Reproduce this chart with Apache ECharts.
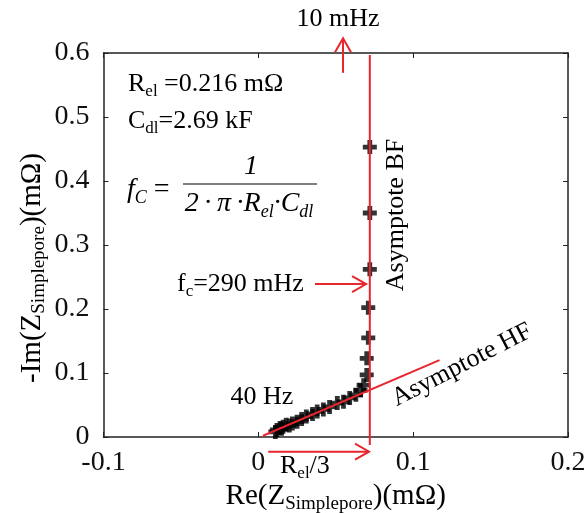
<!DOCTYPE html>
<html>
<head>
<meta charset="utf-8">
<script src="https://cdn.jsdelivr.net/npm/echarts@6/dist/echarts.min.js"></script>
<style>html,body{margin:0;padding:0;background:#fff}#c{width:585px;height:513px}</style>
</head>
<body>
<div id="c"></div>
<script>
// Measured points: Re(Z) and -Im(Z) in mΩ
const reData = [0.011,0.012,0.014,0.015,0.016,0.018,0.020,0.022,0.025,0.028,0.031,0.035,0.038,0.042,0.046,0.051,0.055,0.059,0.063,0.066,0.068,0.070,0.070,0.071,0.071,0.072,0.072,0.072];
const imData = [0.008,0.011,0.014,0.013,0.016,0.019,0.018,0.021,0.024,0.028,0.032,0.036,0.040,0.043,0.047,0.053,0.055,0.061,0.066,0.073,0.081,0.097,0.123,0.155,0.202,0.262,0.350,0.453];
// Annotation lines/arrows in data units: [x1, y1, x2, y2, arrowHead]
const bfLine   = [0.072, 0.597, 0.072, -0.0125, 0];
const hfLine   = [0.003, 0.002, 0.117, 0.120, 0];
const arrow10m = [0.0547, 0.569, 0.0547, 0.623, 1];
const arrowFc  = [0.0366, 0.239, 0.0696, 0.239, 1];
const arrowRel = [0.0064, -0.023, 0.0715, -0.023, 1];
const xRange = [-0.1, 0.2], yRange = [0, 0.6], xStep = 0.1, yStep = 0.1;

const FONT = "'Liberation Serif', 'Times New Roman', serif";
const INK = '#000';
const RED = '#e8262d';
const aMain = {fontFamily: FONT, fontSize: 29, color: INK, lineHeight: 34, verticalAlign: 'middle'};
const aSub = {fontFamily: FONT, fontSize: 19, color: INK, lineHeight: 19, verticalAlign: 'bottom'};
const yMain = {fontFamily: FONT, fontSize: 29, fill: INK, lineHeight: 34, verticalAlign: 'middle'};
const ySub = {fontFamily: FONT, fontSize: 19, fill: INK, lineHeight: 19, verticalAlign: 'bottom'};
const gMain = {fontFamily: FONT, fontSize: 26, fill: INK, lineHeight: 32, verticalAlign: 'middle'};
const gSub = {fontFamily: FONT, fontSize: 17, fill: INK, lineHeight: 17, verticalAlign: 'bottom'};
const fMainI = {fontFamily: FONT, fontSize: 28, fill: INK, lineHeight: 34, verticalAlign: 'middle', fontStyle: 'italic'};
const fSubI = {fontFamily: FONT, fontSize: 18, fill: INK, lineHeight: 18, verticalAlign: 'bottom', fontStyle: 'italic'};
const fEq = {fontFamily: FONT, fontSize: 28, fill: INK, lineHeight: 34, verticalAlign: 'middle'};

const chart = echarts.init(document.getElementById('c'), null, {renderer: 'canvas'});

function axisCommon(showLabel, margin) {
  return {
    axisLine: {show: true, onZero: false, lineStyle: {color: '#222', width: 1.5}},
    axisTick: {show: true, inside: true, length: 5, lineStyle: {color: '#222', width: 1}},
    splitLine: {show: false},
    axisLabel: {show: showLabel, fontFamily: FONT, fontSize: 28, color: '#111', margin: margin}
  };
}

const plus = 'path://M0.33,0H0.67V0.33H1V0.67H0.67V1H0.33V0.67H0V0.33H0.33Z';

function renderArrow(params, api) {
  const p1 = api.coord([api.value(0), api.value(1)]);
  const p2 = api.coord([api.value(2), api.value(3)]);
  const head = api.value(4);
  const children = [{type: 'line', shape: {x1: p1[0], y1: p1[1], x2: p2[0], y2: p2[1]},
    style: {stroke: RED, lineWidth: 2}}];
  if (head) {
    const dx = p2[0] - p1[0], dy = p2[1] - p1[1];
    const len = Math.hypot(dx, dy);
    const ux = dx / len, uy = dy / len, nx = -uy, ny = ux;
    const L = 14, W = 8;
    children.push({type: 'polyline', shape: {points: [
      [p2[0] - L * ux + W * nx, p2[1] - L * uy + W * ny],
      [p2[0], p2[1]],
      [p2[0] - L * ux - W * nx, p2[1] - L * uy - W * ny]]},
      style: {stroke: RED, lineWidth: 2, fill: null}});
  }
  return {type: 'group', children};
}

const TS = '\u2009';
chart.setOption({
  animation: false,
  backgroundColor: '#fff',
  grid: {left: 103.5, right: 17, top: 53, bottom: 76, containLabel: false, outerBoundsMode: 'none'},
  xAxis: [
    Object.assign({type: 'value', min: xRange[0], max: xRange[1], interval: xStep, position: 'bottom',
      name: '{m|Re(Z}{s|Simplepore}{m|)(mΩ)}', nameLocation: 'middle', nameGap: 38,
      nameTextStyle: {rich: {m: aMain, s: aSub}}}, axisCommon(true, 12)),
    Object.assign({type: 'value', min: xRange[0], max: xRange[1], interval: xStep, position: 'top'}, axisCommon(false, 8))
  ],
  yAxis: [
    Object.assign({type: 'value', min: yRange[0], max: yRange[1], interval: yStep, position: 'left'}, axisCommon(true, 14)),
    Object.assign({type: 'value', min: yRange[0], max: yRange[1], interval: yStep, position: 'right'}, axisCommon(false, 8))
  ],
  series: [
    {type: 'scatter', xAxisIndex: 0, yAxisIndex: 0, symbol: plus, symbolSize: 14,
      itemStyle: {color: INK}, data: reData.map((x, i) => [x, imData[i]]), z: 3},
    {type: 'custom', xAxisIndex: 0, yAxisIndex: 0, clip: false, z: 5,
      encode: {x: [0, 2], y: [1, 3]}, renderItem: renderArrow,
      data: [bfLine, hfLine, arrow10m, arrowFc, arrowRel]}
  ],
  graphic: [
    {type: 'text', x: 32, y: 268, rotation: Math.PI / 2, style: {text: '{m|-Im(Z}{s|Simplepore}{m|)(mΩ)}', rich: {m: yMain, s: ySub}, align: 'center', verticalAlign: 'middle'}},
    {type: 'text', x: 338, y: 19, style: {text: '10 mHz', font: '26px ' + FONT, fill: INK, align: 'center', verticalAlign: 'middle'}},
    {type: 'text', x: 128, y: 84, style: {text: '{m|R}{s|el}{m| =0.216 mΩ}', rich: {m: gMain, s: gSub}, verticalAlign: 'middle'}},
    {type: 'text', x: 128, y: 121, style: {text: '{m|C}{s|dl}{m|=2.69 kF}', rich: {m: gMain, s: gSub}, verticalAlign: 'middle'}},
    {type: 'text', x: 127, y: 190, style: {text: '{m|f}{s|C}{e| = }', rich: {m: fMainI, s: fSubI, e: fEq}, verticalAlign: 'middle'}},
    {type: 'text', x: 251, y: 167, style: {text: '1', font: 'italic 28px ' + FONT, fill: INK, align: 'center', verticalAlign: 'middle'}},
    {type: 'line', shape: {x1: 183, y1: 184, x2: 317, y2: 184}, style: {stroke: INK, lineWidth: 1.2}},
    {type: 'text', x: 249, y: 204, style: {text: '{m|2' + TS + '·' + TS + 'π' + TS + '·' + 'R}{s|el}{m|·C}{s|dl}', rich: {m: fMainI, s: fSubI}, align: 'center', verticalAlign: 'middle'}},
    {type: 'text', x: 177, y: 284, style: {text: '{m|f}{s|c}{m|=290 mHz}', rich: {m: gMain, s: gSub}, verticalAlign: 'middle'}},
    {type: 'text', x: 396, y: 215, rotation: Math.PI / 2, style: {text: 'Asymptote BF', font: '26px ' + FONT, fill: INK, align: 'center', verticalAlign: 'middle'}},
    {type: 'text', x: 462, y: 365, rotation: 27.3 * Math.PI / 180, style: {text: 'Asymptote HF', font: '26px ' + FONT, fill: INK, align: 'center', verticalAlign: 'middle'}},
    {type: 'text', x: 262, y: 397, style: {text: '40 Hz', font: '26px ' + FONT, fill: INK, align: 'center', verticalAlign: 'middle'}},
    {type: 'text', x: 280, y: 466, style: {text: '{m|R}{s|el}{m|/3}', rich: {m: gMain, s: gSub}, verticalAlign: 'middle'}}
  ]
});
</script>
</body>
</html>
